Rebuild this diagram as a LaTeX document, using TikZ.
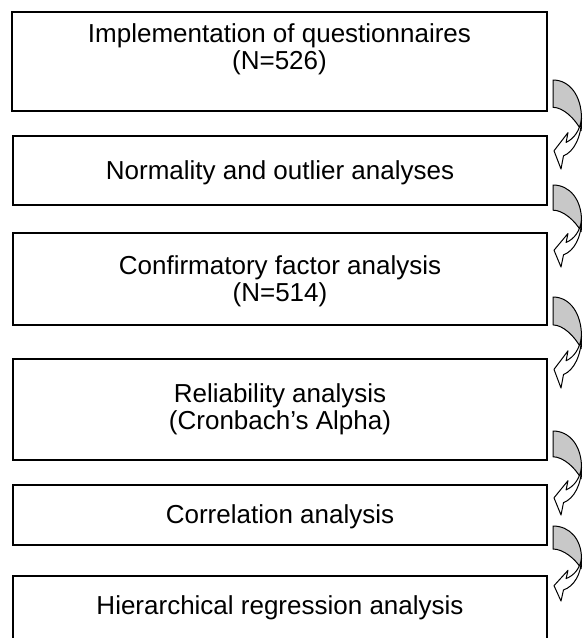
\documentclass[tikz,border=0pt]{standalone}
\usepackage{fontspec}
\setmainfont{Liberation Sans}
\definecolor{arrgray}{RGB}{200,200,200}
\tikzset{
  stepbox/.style={draw=black, line width=1.8pt, inner sep=0pt, outer sep=0pt},
  lbl/.style={font=\fontsize{26}{27}\selectfont, align=center, inner sep=0pt},
  backface/.style={fill=arrgray, draw=black, line width=1pt, line join=round},
  frontface/.style={fill=white, draw=black, line width=1pt, line join=round},
}
\newcommand\myCurvedArrow[2]{%
  \begin{scope}[shift={(553,#1)}, yscale=#2/88]
    \draw[backface] (0,0) .. controls (17,0) and (28.5,16) .. (28.5,38)
      -- (28.2,50) .. controls (22,38) and (10,27) .. (0,27) -- cycle;
    \draw[frontface] (28.5,38) .. controls (28.5,56) and (21,71) .. (10.5,75)
      -- (8,88) -- (1,70) -- (15,52) -- (13.1,61.7)
      .. controls (21,58) and (27,50) .. (28.5,38) -- cycle;
  \end{scope}}
\begin{document}
\begin{tikzpicture}[x=1pt, y=-1pt]
  \clip (0,0) rectangle (582,638);
  \fill[white] (0,0) rectangle (582,638);
  % boxes
  \node[stepbox, minimum width=535pt, minimum height=99pt] (b1) at (279.5,61.5) {};
  \node[stepbox, minimum width=534pt, minimum height=69pt] (b2) at (280,170.5) {};
  \node[stepbox, minimum width=534pt, minimum height=92pt] (b3) at (280,279) {};
  \node[stepbox, minimum width=534pt, minimum height=101pt] (b4) at (280,409.5) {};
  \node[stepbox, minimum width=534pt, minimum height=60pt] (b5) at (280,515) {};
  \node[stepbox, minimum width=534pt, minimum height=84pt] (b6) at (280,618) {};
  % texts
  \node[lbl] (t1) at (279.5,49) {Implementation of questionnaires\\(N=526)};
  \node[lbl] (t2) at (280,172.5) {Normality and outlier analyses};
  \node[lbl] (t3) at (280,281.5) {Confirmatory factor analysis\\(N=514)};
  \node[lbl] (t4) at (280,409.5) {Reliability analysis\\(Cronbach’s Alpha)};
  \node[lbl] (t5) at (280,517) {Correlation analysis};
  \node[lbl] (t6) at (280,608) {Hierarchical regression analysis};
  % curved arrows
  \myCurvedArrow{80}{89}
  \myCurvedArrow{185}{82}
  \myCurvedArrow{297}{91}
  \myCurvedArrow{431}{84}
  \myCurvedArrow{526}{75}
\end{tikzpicture}
\end{document}
